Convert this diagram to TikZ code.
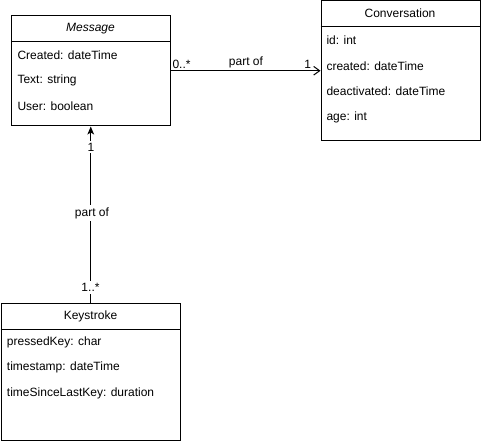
\documentclass[tikz,border=0pt]{standalone}
\usepackage{fontspec}
\setmainfont{Liberation Sans}
\usetikzlibrary{arrows.meta}
\begin{document}
\begin{tikzpicture}[x=0.75pt,y=-0.75pt,
  font=\fontsize{9pt}{11pt}\selectfont,
  line width=0.75pt,
  classbox/.style={draw, rectangle, anchor=north west, inner sep=0pt},
  attr/.style={anchor=west, inner sep=0pt},
  title/.style={anchor=center, inner sep=0pt},
  lbl/.style={fill=white, inner sep=1.5pt},
  endlbl/.style={inner sep=0pt},
  openarrow/.style={-{Straight Barb[length=4.5pt,width=6.5pt]}},
  filledarrow/.style={-{Stealth[length=6pt,width=5pt,inset=1.5pt]}}]
\useasboundingbox (0,0) rectangle (481,441);

% Message
\node[classbox, minimum width=159*0.75pt, minimum height=110.5*0.75pt] (msg) at (11,15) {};
\draw ([yshift=-26.5*0.75pt]msg.north west) -- ([yshift=-26.5*0.75pt]msg.north east);
\node[title] (msgT) at (90.5,28.5) {\itshape Message};
\node[attr] (msgA1) at (17,55) {Created: dateTime};
\node[attr] (msgA2) at (17,80.5) {Text: string};
\node[attr] (msgA3) at (17,106) {User: boolean};

% Conversation
\node[classbox, minimum width=159*0.75pt, minimum height=140*0.75pt] (conv) at (320.5,0.5) {};
\draw ([yshift=-26*0.75pt]conv.north west) -- ([yshift=-26*0.75pt]conv.north east);
\node[title] (convT) at (400,13.5) {Conversation};
\node[attr] (convA1) at (326,40.5) {id: int};
\node[attr] (convA2) at (326,66) {created: dateTime};
\node[attr] (convA3) at (326,91.5) {deactivated: dateTime};
\node[attr] (convA4) at (326,117) {age: int};

% Keystroke
\node[classbox, minimum width=179.5*0.75pt, minimum height=137*0.75pt] (key) at (0.5,302.5) {};
\draw ([yshift=-26.5*0.75pt]key.north west) -- ([yshift=-26.5*0.75pt]key.north east);
\node[title] (keyT) at (90.5,316) {Keystroke};
\node[attr] (keyA1) at (6.5,342) {pressedKey: char};
\node[attr] (keyA2) at (6.5,367.5) {timestamp: dateTime};
\node[attr] (keyA3) at (6.5,393) {timeSinceLastKey: duration};

% Message -> Conversation
\draw[openarrow] (msg.east) -- (msg.east -| conv.west);
\node[endlbl, anchor=base west] (m0) at (172,68.5) {0..*};
\node[endlbl, anchor=base east] (c1) at (311.5,68.5) {1};
\node[endlbl, anchor=base] (po1) at (246,66) {part of};

% Keystroke -> Message
\draw[filledarrow] (key.north) -- (key.north |- msg.south);
\node[lbl] (m1) at (91,147) {1};
\node[lbl] (po2) at (92,213) {part of};
\node[lbl] (k1) at (90.5,287.5) {1..*};
\end{tikzpicture}
\end{document}
